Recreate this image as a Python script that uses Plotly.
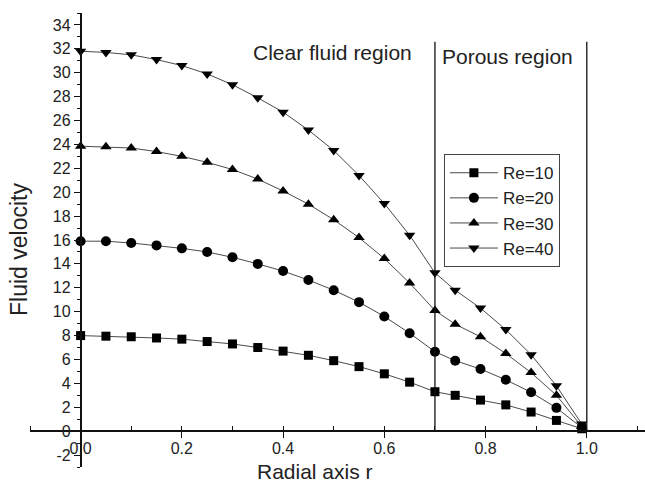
import plotly.graph_objects as go

# ---- data ----
r_points = [0.0, 0.05, 0.10, 0.15, 0.20, 0.25, 0.30, 0.35, 0.40, 0.45, 0.50, 0.55, 0.60, 0.65, 0.70,
            0.74, 0.79, 0.84, 0.89, 0.94, 0.99]

re10 = [8.0, 7.95, 7.9, 7.8, 7.7, 7.5, 7.3, 7.0, 6.7, 6.35, 5.9, 5.4, 4.8, 4.1, 3.3,
        3.0, 2.6, 2.2, 1.6, 0.9, 0.2]
re20 = [15.9, 15.9, 15.75, 15.55, 15.3, 15.0, 14.55, 14.0, 13.4, 12.65, 11.8, 10.8, 9.6, 8.2, 6.65,
        5.9, 5.2, 4.3, 3.25, 1.95, 0.3]
re30 = [23.85, 23.8, 23.7, 23.4, 23.0, 22.5, 21.9, 21.1, 20.1, 19.0, 17.7, 16.2, 14.45, 12.4, 10.1,
        8.95, 7.9, 6.5, 4.9, 3.0, 0.4]
re40 = [31.8, 31.7, 31.5, 31.1, 30.6, 29.9, 29.0, 27.9, 26.7, 25.2, 23.5, 21.4, 19.05, 16.4, 13.25,
        11.8, 10.3, 8.5, 6.4, 3.8, 0.6]

series_names = ["Re=10", "Re=20", "Re=30", "Re=40"]
series_values = [re10, re20, re30, re40]
series_symbols = ["square", "circle", "triangle-up", "triangle-down"]
series_sizes = [9, 10, 10, 10]

region_bounds = [0.7, 1.0]
region_top = 32.6
region_labels = ["Clear fluid region", "Porous region"]
region_label_pos = [(0.497, 31.7), (0.844, 31.4)]

x_tickvals = [0.0, 0.2, 0.4, 0.6, 0.8, 1.0]
x_ticktext = ["0.0", "0.2", "0.4", "0.6", "0.8", "1.0"]
y_tickvals = list(range(-2, 35, 2))
y_ticktext = [str(v) for v in y_tickvals]

x_range = [-0.1, 1.115]
y_range = [-3, 35]

FONT = "Liberation Sans, Arial, sans-serif"
TXT = "#222222"

fig = go.Figure()
for name, vals, sym, sz in zip(series_names, series_values, series_symbols, series_sizes):
    fig.add_trace(go.Scatter(
        x=r_points, y=vals, name=name, mode="lines+markers",
        line=dict(color="#4a4a4a", width=1),
        marker=dict(symbol=sym, size=sz, color="black", line=dict(width=0)),
    ))

for xb in region_bounds:
    fig.add_shape(type="line", xref="x", yref="y", x0=xb, x1=xb, y0=0, y1=region_top,
                  line=dict(color="#111111", width=1.3))

for txt, (px, py) in zip(region_labels, region_label_pos):
    fig.add_annotation(x=px, y=py, xref="x", yref="y", text=txt, showarrow=False,
                       font=dict(family=FONT, size=21, color=TXT), xanchor="center", yanchor="middle")

x_pos = (0 - y_range[0]) / (y_range[1] - y_range[0])
y_pos = (0 - x_range[0]) / (x_range[1] - x_range[0])

fig.update_layout(
    width=645, height=484,
    margin=dict(l=30, r=0, t=13, b=17),
    paper_bgcolor="white", plot_bgcolor="white",
    font=dict(family=FONT, size=16, color=TXT),
    showlegend=True,
    legend=dict(x=0.673, y=0.689, xanchor="left", yanchor="top",
                bordercolor="#444444", borderwidth=1, bgcolor="white",
                font=dict(family=FONT, size=17, color=TXT),
                tracegroupgap=0, itemwidth=48),
    xaxis=dict(range=x_range, anchor="free", position=x_pos, showline=True,
               linecolor="#111111", linewidth=1.5, showgrid=False, zeroline=False,
               tickmode="array", tickvals=x_tickvals, ticktext=x_ticktext,
               ticks="outside", ticklen=6, tickwidth=1.3, tickcolor="#111111",
               ticklabelstandoff=-3,
               tickfont=dict(family=FONT, size=16, color=TXT),
               minor=dict(ticks="inside", ticklen=4, tickwidth=1.3, tickcolor="#111111", dtick=0.1, tick0=-0.1)),
    yaxis=dict(range=y_range, anchor="free", position=y_pos, showline=True,
               linecolor="#111111", linewidth=1.5, showgrid=False, zeroline=False,
               tickmode="array", tickvals=y_tickvals, ticktext=y_ticktext,
               ticks="outside", ticklen=6, tickwidth=1.3, tickcolor="#111111",
               tickfont=dict(family=FONT, size=16, color=TXT),
               minor=dict(ticks="outside", ticklen=3, tickwidth=1.2, tickcolor="#111111", dtick=1, tick0=0)),
)

fig.add_annotation(x=(315 - 30) / 615, y=(484 - 17 - 471) / 454, xref="paper", yref="paper",
                   text="Radial axis r", showarrow=False, xanchor="center", yanchor="middle",
                   font=dict(family=FONT, size=21, color=TXT))
fig.add_annotation(x=(19 - 30) / 615, y=(484 - 17 - 250) / 454, xref="paper", yref="paper",
                   text="Fluid velocity", showarrow=False, xanchor="center", yanchor="middle",
                   textangle=-90, font=dict(family=FONT, size=23, color=TXT))

fig.write_html("out.html")
